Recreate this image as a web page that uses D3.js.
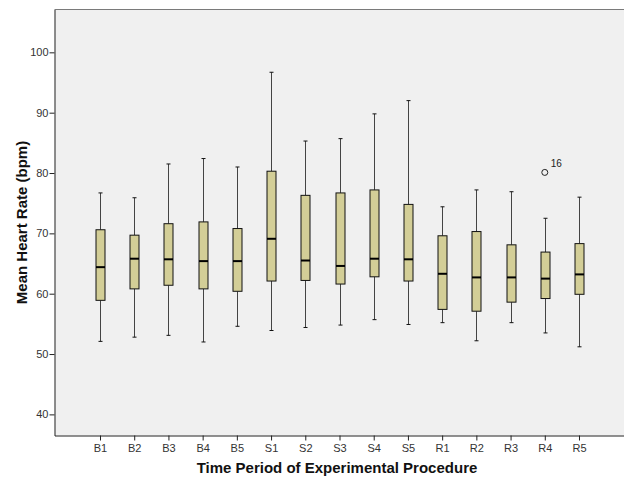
<!DOCTYPE html>
<html>
<head>
<meta charset="utf-8">
<script src="https://cdn.jsdelivr.net/npm/d3@7"></script>
<style>
  body { margin: 0; background: #fff; }
  svg { display: block; font-family: Arial, "Liberation Sans", sans-serif; }
</style>
</head>
<body>
<svg></svg>
<script>
const periods = ["B1","B2","B3","B4","B5","S1","S2","S3","S4","S5","R1","R2","R3","R4","R5"];
const whiskerLow  = [52.1, 52.8, 53.1, 52.0, 54.6, 53.9, 54.4, 54.8, 55.7, 54.9, 55.2, 52.2, 55.2, 53.5, 51.2];
const q1          = [58.9, 60.8, 61.4, 60.8, 60.4, 62.1, 62.2, 61.6, 62.8, 62.1, 57.4, 57.1, 58.6, 59.2, 59.9];
const medians     = [64.4, 65.8, 65.7, 65.4, 65.4, 69.1, 65.5, 64.6, 65.8, 65.7, 63.3, 62.7, 62.7, 62.5, 63.2];
const q3          = [70.6, 69.7, 71.6, 71.9, 70.8, 80.3, 76.3, 76.7, 77.2, 74.8, 69.6, 70.3, 68.1, 66.9, 68.3];
const whiskerHigh = [76.7, 75.9, 81.5, 82.4, 81.0, 96.7, 85.3, 85.7, 89.8, 92.0, 74.4, 77.2, 76.9, 72.5, 76.0];
const outliers = [{ period: "R4", value: 80.1, label: "16" }];
const yTicks = [40, 50, 60, 70, 80, 90, 100];

const width = 624, height = 479;
const plotLeft = 54.5, plotRight = 624.5, plotTop = 9.5, plotBottom = 435.5;

const svg = d3.select("svg").attr("width", width).attr("height", height);

const x = d3.scalePoint()
  .domain(periods)
  .range([plotLeft, plotRight])
  .padding(1.33);

const y = d3.scaleLinear()
  .domain([36.5, 107.1])
  .range([plotBottom, plotTop]);

// plot background
svg.append("rect")
  .attr("x", plotLeft).attr("y", plotTop)
  .attr("width", plotRight - plotLeft).attr("height", plotBottom - plotTop)
  .attr("fill", "#f0f0f0");

svg.append("line")
  .attr("x1", plotLeft).attr("x2", plotRight)
  .attr("y1", plotTop).attr("y2", plotTop)
  .attr("stroke", "#7a7a7a");

const yAxis = d3.axisLeft(y).tickValues(yTicks).tickSize(5).tickSizeOuter(0);
const gy = svg.append("g")
  .attr("transform", `translate(${plotLeft},0)`)
  .call(yAxis);
gy.select(".domain").attr("stroke", "#222");
gy.selectAll(".tick line").attr("stroke", "#222");
gy.selectAll(".tick text").attr("font-size", 11).attr("fill", "#333")
  .attr("font-family", "Arial, 'Liberation Sans', sans-serif").attr("x", -6);

const xAxis = d3.axisBottom(x).tickSize(5).tickSizeOuter(0);
const gx = svg.append("g")
  .attr("transform", `translate(0,${plotBottom})`)
  .call(xAxis);
gx.select(".domain").attr("stroke", "#222");
gx.selectAll(".tick line").attr("stroke", "#222");
gx.selectAll(".tick text").attr("font-size", 11).attr("fill", "#333")
  .attr("font-family", "Arial, 'Liberation Sans', sans-serif").attr("y", 9);

const boxes = periods.map((p, i) => ({
  p, lo: whiskerLow[i], q1: q1[i], med: medians[i], q3: q3[i], hi: whiskerHigh[i]
}));

const bw = 9, cap = 4;
const cx = d => Math.round(x(d.p)) + 0.5;
const g = svg.append("g").selectAll("g").data(boxes).enter().append("g");

// whiskers
g.append("line")
  .attr("x1", cx).attr("x2", cx)
  .attr("y1", d => y(d.hi)).attr("y2", d => y(d.q3))
  .attr("stroke", "#444");
g.append("line")
  .attr("x1", cx).attr("x2", cx)
  .attr("y1", d => y(d.q1)).attr("y2", d => y(d.lo))
  .attr("stroke", "#444");
// caps
g.append("line")
  .attr("x1", d => cx(d) - cap / 2).attr("x2", d => cx(d) + cap / 2)
  .attr("y1", d => y(d.hi)).attr("y2", d => y(d.hi))
  .attr("stroke", "#111");
g.append("line")
  .attr("x1", d => cx(d) - cap / 2).attr("x2", d => cx(d) + cap / 2)
  .attr("y1", d => y(d.lo)).attr("y2", d => y(d.lo))
  .attr("stroke", "#111");
// box
g.append("rect")
  .attr("x", d => cx(d) - bw / 2)
  .attr("y", d => y(d.q3))
  .attr("width", bw)
  .attr("height", d => y(d.q1) - y(d.q3))
  .attr("fill", "#d3ce97")
  .attr("stroke", "#111");
// median
g.append("line")
  .attr("x1", d => cx(d) - bw / 2).attr("x2", d => cx(d) + bw / 2)
  .attr("y1", d => y(d.med)).attr("y2", d => y(d.med))
  .attr("stroke", "#000").attr("stroke-width", 2);

// outliers
svg.append("g").selectAll("circle").data(outliers).enter().append("circle")
  .attr("cx", d => x(d.period))
  .attr("cy", d => y(d.value))
  .attr("r", 3)
  .attr("fill", "none").attr("stroke", "#222");
svg.append("g").selectAll("text").data(outliers).enter().append("text")
  .attr("x", d => x(d.period) + 6)
  .attr("y", d => y(d.value) - 5)
  .attr("font-size", 10).attr("fill", "#222")
  .text(d => d.label);

// axis titles
svg.append("text")
  .attr("x", 337).attr("y", 473)
  .attr("text-anchor", "middle")
  .attr("font-size", 15).attr("font-weight", "bold").attr("fill", "#111")
  .text("Time Period of Experimental Procedure");

svg.append("text")
  .attr("transform", `translate(27,${(plotTop + plotBottom) / 2}) rotate(-90)`)
  .attr("text-anchor", "middle")
  .attr("font-size", 15).attr("font-weight", "bold").attr("fill", "#111")
  .text("Mean Heart Rate (bpm)");
</script>
</body>
</html>
